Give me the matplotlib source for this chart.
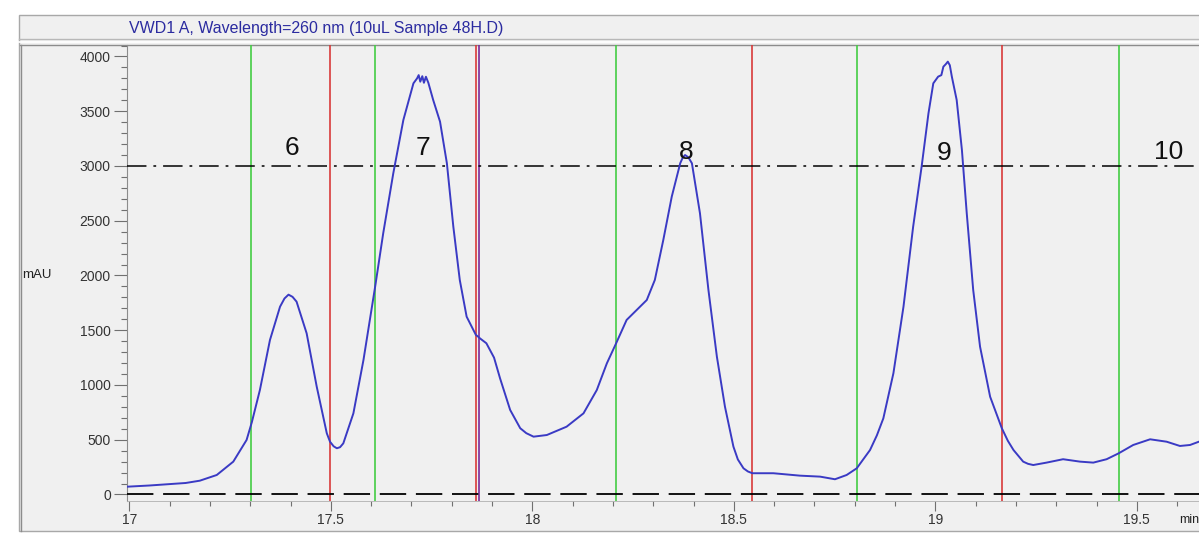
import matplotlib
matplotlib.use('Agg')
import matplotlib.pyplot as plt
from matplotlib.patches import Rectangle
from matplotlib.lines import Line2D
from matplotlib.ticker import MultipleLocator

W, H = 1199, 533

title = 'VWD1 A, Wavelength=260 nm (10uL Sample 48H.D)'

# chromatogram (min, mAU)
time_min = [
    16.994, 17.05, 17.093, 17.14, 17.175, 17.217, 17.258, 17.291, 17.304, 17.324,
    17.349, 17.374, 17.385, 17.395, 17.405, 17.415, 17.440, 17.465, 17.490, 17.498,
    17.507, 17.515, 17.523, 17.531, 17.556, 17.581, 17.610, 17.630, 17.655, 17.680,
    17.705, 17.714, 17.718, 17.722, 17.727, 17.731, 17.736, 17.742, 17.754, 17.771,
    17.788, 17.804, 17.820, 17.837, 17.860, 17.866, 17.870, 17.886, 17.905, 17.920,
    17.945, 17.970, 17.985, 18.003, 18.036, 18.085, 18.127, 18.160, 18.185, 18.208,
    18.234, 18.259, 18.284, 18.304, 18.325, 18.346, 18.367, 18.373, 18.379, 18.387,
    18.396, 18.416, 18.437, 18.458, 18.478, 18.499, 18.510, 18.524, 18.535, 18.546,
    18.598, 18.664, 18.714, 18.751, 18.780, 18.805, 18.838, 18.855, 18.871, 18.896,
    18.921, 18.945, 18.966, 18.983, 18.995, 19.007, 19.015, 19.020, 19.026, 19.031,
    19.036, 19.041, 19.053, 19.066, 19.078, 19.094, 19.111, 19.136, 19.165, 19.180,
    19.194, 19.218, 19.230, 19.243, 19.276, 19.317, 19.359, 19.392, 19.425, 19.455,
    19.491, 19.533, 19.574, 19.607, 19.632, 19.654,
]
signal_mau = [
    71, 82, 93, 105, 126, 178, 300, 498, 660, 954,
    1411, 1715, 1790, 1825, 1805, 1761, 1472, 985, 559, 482,
    440, 422, 432, 467, 741, 1228, 1898, 2385, 2933, 3420,
    3755, 3800, 3830, 3770, 3820, 3760, 3815, 3760, 3603, 3405,
    3025, 2446, 1959, 1624, 1457, 1440, 1426, 1381, 1250, 1060,
    772, 605, 560, 528, 543, 619, 741, 954, 1198, 1381,
    1594, 1685, 1776, 1959, 2324, 2720, 3025, 3075, 3100, 3080,
    3025, 2568, 1868, 1258, 802, 437, 320, 239, 210, 194,
    194, 172, 163, 139, 178, 239, 406, 540, 695, 1107,
    1715, 2446, 2994, 3481, 3755, 3816, 3830, 3907, 3930, 3953,
    3920, 3816, 3603, 3146, 2568, 1868, 1350, 893, 605, 490,
    406, 300, 280, 269, 291, 322, 300, 291, 322, 376,
    452, 504, 482, 443, 452, 482,
]

start_marks = [17.302, 17.610, 18.208, 18.805, 19.455]
end_marks = [17.497, 17.860, 18.546, 19.165]
split_mark = 17.868

peak_names = ['6', '7', '8', '9', '10']
peak_x = [17.403, 17.728, 18.381, 19.022, 19.578]
peak_y = [3164, 3164, 3130, 3116, 3130]

threshold = 3000
baseline = 0

plt.rcParams['font.family'] = ['Liberation Sans', 'DejaVu Sans']
plt.rcParams['lines.scale_dashes'] = False


def fx(px):
    return px / W


def fy(py):
    return 1 - py / H


fig = plt.figure(figsize=(W / 100, H / 100), dpi=100)
fig.patch.set_facecolor('white')

# grey panel, title bar and frame lines (kept behind the axes)
fig.add_artist(Rectangle((fx(19), fy(531)), fx(1215) - fx(19), fy(15) - fy(531),
                         transform=fig.transFigure, facecolor='#f0f0f0',
                         edgecolor='#a8a8a8', lw=1.0, zorder=-3))
fig.add_artist(Line2D([fx(19), 1], [fy(39), fy(39)], transform=fig.transFigure,
                      color='#b8b8b8', lw=1.0, zorder=-2))
fig.add_artist(Line2D([fx(19), 1], [fy(41.5), fy(41.5)], transform=fig.transFigure,
                      color='white', lw=1.2, zorder=-2))
fig.add_artist(Line2D([fx(20), 1], [fy(45), fy(45)], transform=fig.transFigure,
                      color='#8c8c8c', lw=1.0, zorder=-2))
fig.add_artist(Line2D([fx(20.5), fx(20.5)], [fy(45), fy(531)], transform=fig.transFigure,
                      color='#8c8c8c', lw=1.0, zorder=-2))

fig.text(fx(129), fy(28), title, fontsize=11.5, color='#2b2ba0', ha='left', va='center')
fig.text(fx(22), fy(275), 'mAU', fontsize=9.5, color='#222222', ha='left', va='center')
fig.text(fx(1179), fy(520), 'min', fontsize=9, color='#222222', ha='left', va='center')

ax = fig.add_axes([fx(126.7), fy(500.5), 1 - fx(126.7), fy(45) - fy(500.5)])
ax.set_facecolor('none')
ax.set_xlim(16.9935, 19.6543)
ax.set_ylim(-55, 4105)

for side in ['top', 'right']:
    ax.spines[side].set_visible(False)
ax.spines['left'].set_color('#8c8c8c')
ax.spines['left'].set_linewidth(0.8)
ax.spines['bottom'].set_color('#b0b0b0')
ax.spines['bottom'].set_linewidth(0.6)

ax.set_xticks([17, 17.5, 18, 18.5, 19, 19.5])
ax.set_xticklabels(['17', '17.5', '18', '18.5', '19', '19.5'])
ax.xaxis.set_minor_locator(MultipleLocator(0.1))
ax.set_yticks(range(0, 4001, 500))
ax.yaxis.set_minor_locator(MultipleLocator(100))
ax.tick_params(axis='x', which='major', length=7.2, width=0.8, color='#707070',
               labelsize=10, labelcolor='#333333', pad=2)
ax.tick_params(axis='x', which='minor', length=3.4, width=0.8, color='#707070')
ax.tick_params(axis='y', which='major', length=9.4, width=0.8, color='#707070',
               labelsize=10, labelcolor='#333333', pad=2)
ax.tick_params(axis='y', which='minor', length=4.6, width=0.8, color='#707070')

for t in start_marks:
    ax.axvline(t, color='#44cc44', lw=1.2, zorder=2)
for t in end_marks:
    ax.axvline(t, color='#d83a3a', lw=1.2, zorder=2)
ax.axvline(split_mark, color='#7a2a9a', lw=1.2, zorder=2)

ax.axhline(threshold, color='black', lw=1.1, dashes=(14, 5, 2, 5), zorder=3)
ax.axhline(baseline, color='black', lw=1.3, dashes=(19, 7), zorder=3)

ax.plot(time_min, signal_mau, color='#3a3ac4', lw=1.4, zorder=5,
        solid_joinstyle='round')

for name, x, y in zip(peak_names, peak_x, peak_y):
    ax.text(x, y, name, fontsize=19, ha='center', va='center', color='#111111', zorder=6)

fig.savefig('out.png', dpi=100)
